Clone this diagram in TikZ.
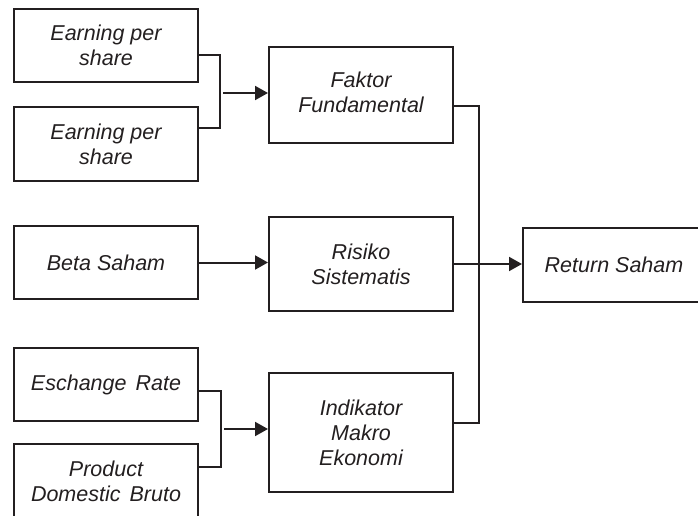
\documentclass[tikz,border=0pt]{standalone}
\usepackage{fontspec}
\setmainfont{Liberation Sans}
\usetikzlibrary{arrows.meta,calc}
\definecolor{ink}{HTML}{231F20}
\begin{document}
\begin{tikzpicture}[x=1pt,y=-1pt,
  box/.style={draw=ink,line width=2pt,rectangle,align=center,inner sep=0pt,
    font=\fontsize{21.5}{25}\selectfont\itshape,text=ink},
  lbox/.style={box,minimum width=184pt},
  mbox/.style={box,minimum width=184pt},
  link/.style={draw=ink,line width=2pt},
  arr/.style={link,-{Triangle[length=13pt,width=14pt]}}]
\useasboundingbox (0,0) rectangle (698,516);
\begin{scope}
\clip (0,0) rectangle (698,516);
% left column
\node[lbox,minimum height=73pt] (e1) at (106,45.5) {Earning per\\share};
\node[lbox,minimum height=74pt] (e2) at (106,144) {Earning per\\share};
\node[lbox,minimum height=73pt] (beta) at (106,262.5) {Beta Saham};
\node[lbox,minimum height=73pt] (ex) at (106,384.5) {Eschange\hspace{3pt} Rate};
\node[lbox,minimum height=74pt] (pdb) at (106,481) {Product\\Domestic\hspace{3pt} Bruto};
% middle column
\node[mbox,minimum height=96pt] (ff) at (361,95) {\raisebox{4pt}{\begin{tabular}{@{}c@{}}Faktor\\Fundamental\end{tabular}}};
\node[mbox,minimum height=94pt] (rs) at (361,264) {Risiko\\Sistematis};
\node[mbox,minimum height=119pt] (ime) at (361,432.5) {Indikator\\Makro\\Ekonomi};
% right
\node[box,minimum width=182pt,minimum height=74pt] (ret) at (614,265) {Return Saham};
% brackets
\coordinate (b1) at (220,93);
\coordinate (b1s) at (223,93);
\draw[link] ([yshift=-9.5pt]e1.east) -| (b1) |- ([yshift=16pt]e2.east);
\draw[arr] (b1s) -- (b1s -| ff.west);
\draw[arr] (beta.east) -- (beta.east -| rs.west);
\coordinate (b2) at (221,429);
\coordinate (b2s) at (224,429);
\draw[link] ([yshift=-6.5pt]ex.east) -| (b2) |- ([yshift=14pt]pdb.east);
\draw[arr] (b2s) -- (b2s -| ime.west);
% right collector
\coordinate (v) at (479,265);
\draw[link] ([yshift=-11pt]ff.east) -| (v) |- ([yshift=9.5pt]ime.east);
\draw[arr] (rs.east) -- (rs.east -| ret.west);
\end{scope}
\end{tikzpicture}
\end{document}
